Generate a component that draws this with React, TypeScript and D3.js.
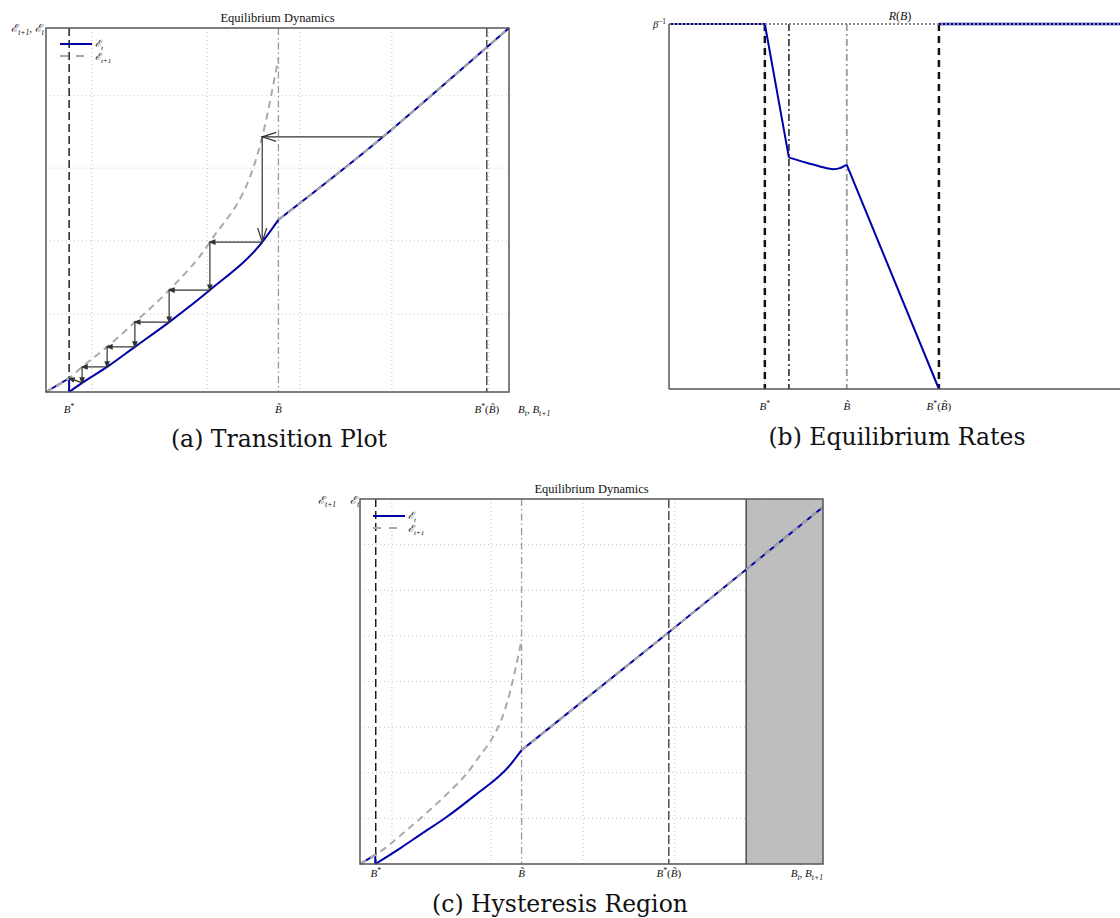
import React from 'react';
import * as d3 from 'd3';

const FONT = "'Liberation Serif','DejaVu Serif',serif";
const CAP_FONT = "'DejaVu Serif',serif";
const BLUE = '#0000a8';
const GREY = '#aaaaaa';

// ---------- Panel (a) data ----------
const aGridX = [9.9, 34.8, 54.9, 74.7, 95.6];
const aGridY = [21.4, 41.5, 61.5, 81.4];
const aMarks = { bStar: 5.0, bTilde: 50.2, bStarTilde: 95.2 };
const aBluePre: [number, number][] = [[0, 0], [5, 3.8], [5, 0]];
const aBlueConvex: [number, number][] = [[5, 0], [7.8, 2.5], [13.2, 6.9], [19.2, 12.4], [26.6, 19.2], [35.4, 28.0], [46.7, 41.2], [50.2, 47.3]];
const aLinear: [number, number][] = [[50.2, 47.3], [72.8, 70.1], [80.8, 78.8], [100, 100]];
const aGreyConvex: [number, number][] = [[0, 0], [5, 3.8], [7.8, 6.9], [13.2, 12.4], [19.2, 19.2], [26.6, 28.0], [35.4, 41.2], [46.7, 70.1], [50.2, 91.8]];
const aCobweb: [number, number][] = [[72.8, 70.1], [46.7, 70.1], [46.7, 41.2], [35.4, 41.2], [35.4, 28.0], [26.6, 28.0], [26.6, 19.2], [19.2, 19.2], [19.2, 12.4], [13.2, 12.4], [13.2, 6.9], [7.8, 6.9], [7.8, 2.5], [5.0, 3.8]];
const aBigArrows = 2;

// ---------- Panel (b) data ----------
const bMarks = { bStar: 20.7, bKink: 25.9, bTilde: 38.4, bStarTilde: 58.3 };
const bBlue1: [number, number][] = [[0, 100], [20.7, 100], [25.9, 63.4]];
const bBlueCurve: [number, number][] = [[25.9, 63.4], [29.7, 62.0], [34.1, 60.5], [35.5, 60.2], [36.9, 60.5], [38.0, 61.2], [38.4, 61.4]];
const bBlueDrop: [number, number][] = [[38.4, 61.4], [58.3, 0]];
const bBlue2: [number, number][] = [[58.3, 100], [100, 100]];
const bRLevel = 100;

// ---------- Panel (c) data ----------
const cGridX = [6.9, 28.3, 48.2, 68.0, 88.1];
const cGridY = [12.5, 25, 37.5, 50, 62.5, 75, 87.5];
const cMarks = { bStar: 3.4, bTilde: 34.9, bStarTilde: 66.7 };
const cShade = [83.4, 100];
const cBluePre: [number, number][] = [[0, 0], [3.3, 2.5], [3.3, 0]];
const cBlueConvex: [number, number][] = [[3.3, 0], [8.9, 4.5], [13.2, 8.2], [18.4, 12.6], [24.6, 18.6], [32.4, 27.1], [34.9, 31.2]];
const cLinear: [number, number][] = [[34.9, 31.2], [66.7, 63.5], [100, 97.8]];
const cGreyConvex: [number, number][] = [[0, 0], [3.5, 2.6], [9.1, 8.2], [13.4, 12.9], [18.4, 18.7], [24.6, 27.4], [32.4, 47.1], [34.9, 61.4]];

type Seg = { t: string; s?: 'sub' | 'sup'; it?: boolean };

function MText({ x, y, size, anchor = 'start', segs }: { x: number; y: number; size: number; anchor?: string; segs: Seg[] }) {
  let cur = 0;
  const kids = segs.map((sg, i) => {
    const target = sg.s === 'sub' ? size * 0.3 : sg.s === 'sup' ? -size * 0.38 : 0;
    const dy = target - cur;
    cur = target;
    return (
      <tspan key={i} dy={dy} fontSize={sg.s ? size * 0.7 : size} fontStyle={sg.it === false ? 'normal' : 'italic'}>
        {sg.t}
      </tspan>
    );
  });
  return (
    <text x={x} y={y} fontSize={size} textAnchor={anchor as any} fontFamily={FONT} fill="#111">
      {kids}
    </text>
  );
}

const BSTAR: Seg[] = [{ t: 'B' }, { t: '*', s: 'sup', it: false }];
const BTILDE: Seg[] = [{ t: 'B\u0303' }];
const BSTARTILDE: Seg[] = [{ t: 'B' }, { t: '*', s: 'sup', it: false }, { t: '(', it: false }, { t: 'B\u0303' }, { t: ')', it: false }];
const XLAB: Seg[] = [{ t: 'B' }, { t: 't', s: 'sub' }, { t: ', ', it: false }, { t: 'B' }, { t: 't+1', s: 'sub' }];
const ET: Seg[] = [{ t: 'ℰ' }, { t: 't', s: 'sub' }];
const ET1: Seg[] = [{ t: 'ℰ' }, { t: 't+1', s: 'sub' }];

function Arrow({ p1, p2, big }: { p1: [number, number]; p2: [number, number]; big: boolean }) {
  const dx = p2[0] - p1[0];
  const dy = p2[1] - p1[1];
  const len = Math.hypot(dx, dy) || 1;
  const ux = dx / len, uy = dy / len;
  const L = big ? 14 : 5;
  const W = big ? 4.5 : 2;
  const bx = p2[0] - ux * L, by = p2[1] - uy * L;
  const lx = bx - uy * W, ly = by + ux * W;
  const rx = bx + uy * W, ry = by - ux * W;
  return (
    <g stroke="#333" strokeWidth={1.2} fill="none">
      <line x1={p1[0]} y1={p1[1]} x2={p2[0]} y2={p2[1]} />
      {big ? (
        <path d={`M${lx},${ly}L${p2[0]},${p2[1]}L${rx},${ry}`} />
      ) : (
        <path d={`M${lx},${ly}L${p2[0]},${p2[1]}L${rx},${ry}Z`} fill="#333" />
      )}
    </g>
  );
}

function VLine({ x, y0, y1, kind, w }: { x: number; y0: number; y1: number; kind: 'dash' | 'dashdot' | 'dashdotdark' | 'dashgrey'; w: number }) {
  const styles: Record<string, { c: string; d: string }> = {
    dash: { c: '#111', d: '8,4' },
    dashgrey: { c: '#444', d: '9,3' },
    dashdot: { c: '#999', d: '7,3,1.5,3' },
    dashdotdark: { c: '#444', d: '7,3,1.5,3' },
  };
  const s = styles[kind];
  return <line x1={x} x2={x} y1={y0} y2={y1} stroke={s.c} strokeWidth={w} strokeDasharray={s.d} />;
}

function Panel({ x, y, curveA, curveGreyA, pre, linear, grid, gridY, marks, title, left, top, right, bottom, legend, ylabel, xlabel, tickY, shade, cobweb }: any) {
  const line = d3.line<[number, number]>().x((d) => x(d[0])).y((d) => y(d[1]));
  const smooth = d3.line<[number, number]>().x((d) => x(d[0])).y((d) => y(d[1])).curve(d3.curveMonotoneX);
  return (
    <g>
      {shade && (
        <g>
          <rect x={x(shade[0])} y={top} width={x(shade[1]) - x(shade[0])} height={bottom - top} fill="#bebebe" />
          <line x1={x(shade[0])} x2={x(shade[0])} y1={top} y2={bottom} stroke="#333" strokeWidth={1.3} />
        </g>
      )}
      {grid.map((g: number, i: number) => (
        <line key={'gx' + i} x1={x(g)} x2={x(g)} y1={top} y2={bottom} stroke="#c4c4c4" strokeWidth={1} strokeDasharray="1,3" />
      ))}
      {gridY.map((g: number, i: number) => (
        <line key={'gy' + i} x1={left} x2={right} y1={y(g)} y2={y(g)} stroke="#c4c4c4" strokeWidth={1} strokeDasharray="1,3" />
      ))}
      <VLine x={x(marks.bStar)} y0={top} y1={bottom} kind="dash" w={1.4} />
      <VLine x={x(marks.bTilde)} y0={top} y1={bottom} kind="dashdot" w={1.3} />
      <VLine x={x(marks.bStarTilde)} y0={top} y1={bottom} kind="dashgrey" w={1.4} />
      <path d={line(pre) || ''} stroke={BLUE} strokeWidth={2} fill="none" />
      <path d={smooth(curveA) || ''} stroke={BLUE} strokeWidth={2} fill="none" />
      <path d={smooth(linear) || ''} stroke={BLUE} strokeWidth={2} fill="none" />
      <path d={line(pre.slice(0, 2)) || ''} stroke={GREY} strokeWidth={2} fill="none" strokeDasharray="7,5" />
      <path d={smooth(curveGreyA) || ''} stroke={GREY} strokeWidth={2} fill="none" strokeDasharray="7,5" />
      <path d={smooth(linear) || ''} stroke={GREY} strokeWidth={2} fill="none" strokeDasharray="7,5" />
      {cobweb &&
        cobweb.slice(1).map((p: [number, number], i: number) => (
          <Arrow key={'ar' + i} p1={[x(cobweb[i][0]), y(cobweb[i][1])]} p2={[x(p[0]), y(p[1])]} big={i < aBigArrows} />
        ))}
      {/* spines */}
      <rect x={left} y={top} width={right - left} height={bottom - top} fill="none" stroke="#555" strokeWidth={1.5} />
      {/* legend */}
      <line x1={legend.x} x2={legend.x + 32} y1={legend.y} y2={legend.y} stroke={BLUE} strokeWidth={2} />
      <line x1={legend.x} x2={legend.x + 32} y1={legend.y + 12} y2={legend.y + 12} stroke={GREY} strokeWidth={2} strokeDasharray="8,8" />
      <MText x={legend.x + 35} y={legend.y + 3} size={10} segs={ET} />
      <MText x={legend.x + 35} y={legend.y + 15.5} size={10} segs={ET1} />
      {/* title */}
      <text x={(left + right) / 2} y={top - 6} textAnchor="middle" fontFamily={FONT} fontSize={12.5} fill="#111">
        {title}
      </text>
      {ylabel}
      {xlabel}
      <MText x={x(marks.bStar)} y={tickY} size={11} anchor="middle" segs={BSTAR} />
      <MText x={x(marks.bTilde)} y={tickY} size={11} anchor="middle" segs={BTILDE} />
      <MText x={x(marks.bStarTilde)} y={tickY} size={11} anchor="middle" segs={BSTARTILDE} />
    </g>
  );
}

export default function App() {
  // Panel (a)
  const ax = d3.scaleLinear().domain([0, 100]).range([46, 509]);
  const ay = d3.scaleLinear().domain([0, 100]).range([392, 28]);
  // Panel (b)
  const bx = d3.scaleLinear().domain([0, 100]).range([669, 1132]);
  const by = d3.scaleLinear().domain([0, 100]).range([389, 24]);
  // Panel (c)
  const cx = d3.scaleLinear().domain([0, 100]).range([360, 823]);
  const cy = d3.scaleLinear().domain([0, 100]).range([864, 499]);

  const bline = d3.line<[number, number]>().x((d) => bx(d[0])).y((d) => by(d[1]));
  const bsmooth = d3.line<[number, number]>().x((d) => bx(d[0])).y((d) => by(d[1])).curve(d3.curveMonotoneX);

  return (
    <svg width={1120} height={918} style={{ position: 'absolute', left: 0, top: 0, background: '#fff' }}>
      <rect x={0} y={0} width={1120} height={918} fill="#fff" />
      {/* (a) */}
      <Panel
        x={ax}
        y={ay}
        curveA={aBlueConvex}
        curveGreyA={aGreyConvex}
        pre={aBluePre}
        linear={aLinear}
        grid={aGridX}
        gridY={aGridY}
        marks={aMarks}
        title="Equilibrium Dynamics"
        left={46}
        top={28}
        right={509}
        bottom={392}
        legend={{ x: 60, y: 44 }}
        tickY={413}
        cobweb={aCobweb}
        ylabel={
          <MText x={44} y={32} size={11} anchor="end" segs={[...ET1, { t: ', ', it: false }, ...ET]} />
        }
        xlabel={<MText x={518} y={413} size={11} segs={XLAB} />}
      />
      <text x={279} y={447} textAnchor="middle" fontFamily={CAP_FONT} fontSize={23.5} fill="#111">
        (a) Transition Plot
      </text>

      {/* (b) */}
      <g>
        <line x1={bx(bMarks.bStar)} x2={bx(bMarks.bStar)} y1={by(100)} y2={by(0)} stroke="#d0d0d0" strokeWidth={1} />
        <line x1={bx(bMarks.bStar)} x2={bx(bMarks.bStar)} y1={by(100)} y2={by(0)} stroke="#111" strokeWidth={2.5} strokeDasharray="7,5" />
        <line x1={bx(bMarks.bKink)} x2={bx(bMarks.bKink)} y1={by(100)} y2={by(0)} stroke="#444" strokeWidth={1.8} strokeDasharray="7,3,2,3" />
        <line x1={bx(bMarks.bTilde)} x2={bx(bMarks.bTilde)} y1={by(100)} y2={by(0)} stroke="#999" strokeWidth={1.8} strokeDasharray="7,3,2,3" />
        <line x1={bx(bMarks.bStarTilde)} x2={bx(bMarks.bStarTilde)} y1={by(100)} y2={by(0)} stroke="#111" strokeWidth={2.5} strokeDasharray="7,5" />
        <path d={bline(bBlue1) || ''} stroke={BLUE} strokeWidth={2} fill="none" />
        <path d={bsmooth(bBlueCurve) || ''} stroke={BLUE} strokeWidth={2} fill="none" />
        <path d={bline(bBlueDrop) || ''} stroke={BLUE} strokeWidth={2} fill="none" />
        <path d={bline(bBlue2) || ''} stroke={BLUE} strokeWidth={2.5} fill="none" />
        <line x1={bx(0)} x2={bx(100)} y1={by(bRLevel)} y2={by(bRLevel)} stroke="#888" strokeWidth={2} strokeDasharray="2,2" />
        <line x1={669} x2={669} y1={24} y2={389} stroke="#555" strokeWidth={1.5} />
        <line x1={669} x2={1132} y1={389} y2={389} stroke="#555" strokeWidth={1.5} />
        <MText x={666} y={28} size={10.5} anchor="end" segs={[{ t: 'β' }, { t: '−1', s: 'sup', it: false }]} />
        <MText x={900} y={20} size={12} anchor="middle" segs={[{ t: 'R' }, { t: '(', it: false }, { t: 'B' }, { t: ')', it: false }]} />
        <MText x={bx(bMarks.bStar)} y={410} size={11} anchor="middle" segs={BSTAR} />
        <MText x={bx(bMarks.bTilde)} y={410} size={11} anchor="middle" segs={BTILDE} />
        <MText x={bx(bMarks.bStarTilde)} y={410} size={11} anchor="middle" segs={BSTARTILDE} />
      </g>
      <text x={897} y={445} textAnchor="middle" fontFamily={CAP_FONT} fontSize={23.5} fill="#111">
        (b) Equilibrium Rates
      </text>

      {/* (c) */}
      <Panel
        x={cx}
        y={cy}
        curveA={cBlueConvex}
        curveGreyA={cGreyConvex}
        pre={cBluePre}
        linear={cLinear}
        grid={cGridX}
        gridY={cGridY}
        marks={cMarks}
        title="Equilibrium Dynamics"
        left={360}
        top={499}
        right={823}
        bottom={864}
        legend={{ x: 373, y: 516 }}
        tickY={877}
        shade={cShade}
        ylabel={
          <g>
            <MText x={318} y={504} size={11} segs={ET1} />
            <MText x={350} y={504} size={11} segs={ET} />
          </g>
        }
        xlabel={<MText x={823} y={877} size={11} anchor="end" segs={XLAB} />}
      />
      <text x={560} y={912} textAnchor="middle" fontFamily={CAP_FONT} fontSize={23.5} fill="#111">
        (c) Hysteresis Region
      </text>
    </svg>
  );
}
